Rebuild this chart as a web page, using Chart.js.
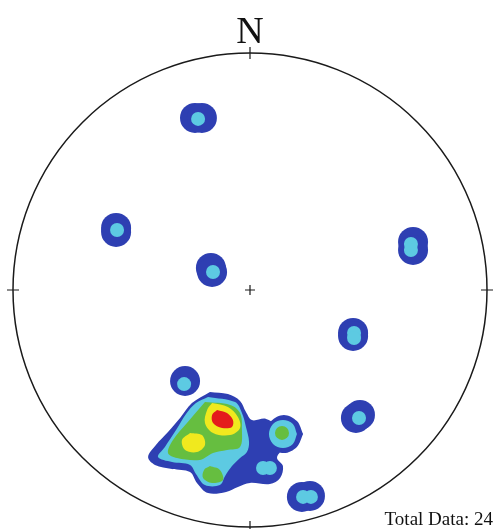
<!DOCTYPE html>
<html>
<head>
<meta charset="utf-8">
<script src="https://cdn.jsdelivr.net/npm/chart.js@4.4.1/dist/chart.umd.min.js"></script>
<style>
  html, body { margin: 0; padding: 0; background: #fff; overflow: hidden; }
  #wrap { position: relative; width: 495px; height: 529px; }
</style>
</head>
<body>
<div id="wrap"><canvas id="net"></canvas></div>
<script>
// Stereonet density plot, net radius = 100 units
const totalData = 24;

// contour level colours, lowest to highest
const levelColors = ['#2e3fb2', '#5dcae2', '#66be40', '#f0e91e', '#e41c1c'];

// isolated pole blobs (round contours)
const blueDots = [
  [-23.2, 72.6], [-20.3, 72.6], [-56.5, 26.2], [-56.5, 24.5],
  [68.8, 20.3], [68.8, 16.9], [-16.5, 9.3], [-16.0, 7.6],
  [43.5, -18.1], [43.5, -19.4], [-27.4, -38.4], [44.7, -54.0],
  [46.4, -52.7], [21.9, -87.3], [25.3, -86.9]
];
const cyanDots = [
  [-21.9, 72.2], [-56.1, 25.3], [67.9, 19.4], [67.9, 16.9],
  [-15.6, 7.6], [43.9, -18.1], [43.9, -20.3], [-27.8, -39.7],
  [46.0, -54.0], [22.4, -87.3], [25.7, -87.3],
  [5.5, -75.1], [8.4, -75.1]
];
const greenDots = [[13.5, -60.3]];

// blob east of the main cluster
const eastBlue = [
  [22.4, -60.8], [19.8, -55.3], [14.3, -52.7], [8.9, -55.3],
  [6.3, -60.8], [8.9, -66.2], [14.3, -68.8], [19.8, -66.2]
];
const eastCyan = [
  [19.8, -60.8], [18.1, -56.5], [13.9, -54.9], [9.7, -56.5],
  [8.0, -60.8], [9.7, -65.0], [13.9, -66.7], [18.1, -65.0]
];

// main cluster contours (SW)
const blueZone = [
  [-16.9, -43.0], [-9.3, -43.9], [-4.2, -46.8], [-1.7, -51.5], [0.8, -54.9],
  [6.8, -54.4], [12.7, -59.1], [13.5, -66.7], [11.4, -70.9], [13.9, -74.3],
  [12.7, -79.3], [8.4, -81.9], [0, -81.4], [-5.1, -83.1], [-10.1, -85.2],
  [-17.7, -85.7], [-22.4, -81.4], [-25.3, -76.8], [-32.9, -75.5], [-40.1, -73.8],
  [-43.0, -70.5], [-39.7, -65.4], [-34.6, -59.9], [-29.5, -54.0], [-24.5, -47.7]
];
const cyanZone = [
  [-17.7, -45.1], [-6.3, -47.3], [-3.4, -51.9], [-1.7, -57.8], [-0.4, -64.1],
  [-1.3, -68.4], [-4.2, -70.9], [-7.6, -74.3], [-10.5, -78.5], [-12.7, -82.3],
  [-19.0, -82.3], [-22.8, -77.6], [-25.3, -73.8], [-32.9, -72.6], [-38.8, -70.5],
  [-35.9, -66.2], [-31.2, -59.1], [-27.0, -52.3], [-22.8, -47.7]
];
const greenZone = [
  [-19.0, -47.3], [-8.4, -48.5], [-4.2, -51.9], [-3.4, -59.1], [-4.2, -66.2],
  [-9.7, -67.5], [-15.6, -68.8], [-21.1, -71.7], [-30.8, -70.9], [-34.6, -68.8],
  [-32.5, -63.3], [-26.6, -56.1], [-21.9, -50.6]
];
const greenPatch = [
  [-16.9, -74.3], [-12.7, -75.9], [-11.4, -80.2], [-16.0, -81.4], [-19.8, -79.3], [-19.4, -75.9]
];
const yellowZone = [
  [-16.0, -47.7], [-9.3, -49.4], [-5.1, -53.6], [-4.2, -58.2],
  [-8.4, -61.2], [-15.6, -60.3], [-19.0, -56.1], [-18.1, -50.6]
];
const yellowPatch = [
  [-25.3, -60.3], [-20.3, -61.2], [-19.0, -65.4], [-22.4, -68.4], [-27.4, -67.5], [-28.7, -63.3]
];
const redZone = [
  [-13.9, -50.6], [-9.7, -51.9], [-7.2, -54.9], [-7.6, -57.8],
  [-11.8, -58.2], [-15.6, -56.1], [-16.0, -52.7]
];

function zone(points, level) {
  return {
    data: points.concat([points[0]]),
    showLine: true,
    fill: 'shape',
    tension: 0.35,
    borderWidth: 0,
    pointRadius: 0,
    backgroundColor: levelColors[level],
    order: 10 - level * 2
  };
}
function dots(points, level, radius) {
  return {
    data: points,
    pointRadius: radius,
    pointBorderWidth: 0,
    pointBackgroundColor: levelColors[level],
    order: 9 - level * 2
  };
}

const netFrame = {
  id: 'netFrame',
  afterDatasetsDraw(chart) {
    const { ctx, scales: { x, y } } = chart;
    const cx = x.getPixelForValue(0);
    const cy = y.getPixelForValue(0);
    const r = x.getPixelForValue(100) - cx;
    ctx.save();
    ctx.strokeStyle = '#1a1a1a';
    ctx.lineWidth = 1.5;
    ctx.beginPath();
    ctx.arc(cx, cy, r, 0, Math.PI * 2);
    ctx.stroke();
    // N/E/S/W ticks and centre cross
    ctx.lineWidth = 1.2;
    ctx.beginPath();
    ctx.moveTo(cx, cy - r - 6); ctx.lineTo(cx, cy - r + 6);
    ctx.moveTo(cx, cy + r - 6); ctx.lineTo(cx, cy + r + 6);
    ctx.moveTo(cx - r - 6, cy); ctx.lineTo(cx - r + 6, cy);
    ctx.moveTo(cx + r - 6, cy); ctx.lineTo(cx + r + 6, cy);
    ctx.moveTo(cx - 5, cy); ctx.lineTo(cx + 5, cy);
    ctx.moveTo(cx, cy - 5); ctx.lineTo(cx, cy + 5);
    ctx.stroke();
    ctx.fillStyle = '#111';
    ctx.textBaseline = 'alphabetic';
    ctx.textAlign = 'center';
    ctx.font = '38px "Liberation Serif"';
    ctx.fillText('N', cx, cy - r - 10);
    ctx.textAlign = 'right';
    ctx.font = '19px "Liberation Serif"';
    ctx.fillText('Total Data: ' + totalData, chart.width - 2, chart.height - 4);
    ctx.restore();
  }
};

new Chart(document.getElementById('net'), {
  type: 'scatter',
  data: {
    datasets: [
      zone(blueZone, 0), zone(eastBlue, 0), dots(blueDots, 0, 15),
      zone(cyanZone, 1), zone(eastCyan, 1), dots(cyanDots, 1, 7),
      zone(greenZone, 2), zone(greenPatch, 2), dots(greenDots, 2, 7),
      zone(yellowZone, 3), zone(yellowPatch, 3),
      zone(redZone, 4)
    ]
  },
  options: {
    responsive: true,
    maintainAspectRatio: false,
    animation: false,
    events: [],
    layout: { autoPadding: false, padding: { left: 13, right: 8, top: 53, bottom: 2 } },
    scales: {
      x: { type: 'linear', min: -100, max: 100, display: false },
      y: { type: 'linear', min: -100, max: 100, display: false }
    },
    plugins: { legend: { display: false }, tooltip: { enabled: false } }
  },
  plugins: [netFrame]
});
</script>
</body>
</html>
